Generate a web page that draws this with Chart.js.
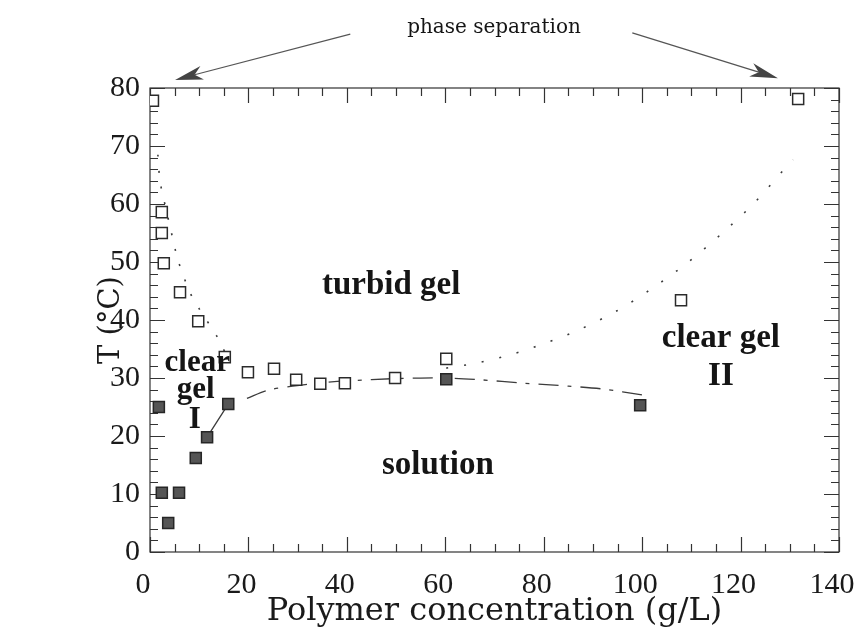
<!DOCTYPE html>
<html>
<head>
<meta charset="utf-8">
<script src="https://cdn.jsdelivr.net/npm/chart.js@4.4.0/dist/chart.umd.min.js"></script>
<style>
  html, body { margin: 0; padding: 0; background: #fff; }
  canvas { display: block; }
</style>
</head>
<body>
<canvas id="phase" width="858" height="634"></canvas>
<script>
// Phase diagram: transition temperatures vs. polymer concentration

// Open squares: turbid-gel / phase-separation temperatures
const turbidX = [0.6, 2.4, 2.4, 2.8, 6.1, 9.8, 15.2, 19.9, 25.2, 29.7, 34.6, 39.6, 49.8, 60.2, 107.9, 131.7];
const turbidY = [77.8, 58.6, 55.0, 49.8, 44.8, 39.8, 33.6, 31.0, 31.6, 29.7, 29.0, 29.1, 30.0, 33.3, 43.4, 78.1];

// Filled squares: sol-gel temperatures
const gelX = [1.8, 2.4, 5.9, 3.7, 9.3, 11.6, 15.9, 60.2, 99.6];
const gelY = [25.0, 10.2, 10.2, 5.0, 16.2, 19.8, 25.5, 29.8, 25.3];

// Dotted boundary, low-concentration side
const leftBoundX = [1.6, 2.0, 2.6, 4.1, 5.7, 8.1, 9.8, 13.8, 15.2];
const leftBoundY = [68.5, 64.1, 61.6, 56.0, 50.3, 44.8, 42.2, 36.9, 34.5];

// Dotted boundary, high-concentration side
const rightBoundX = [60.2, 66.5, 73.2, 80.3, 87.4, 94.9, 101.6, 109.1, 116.3, 122.8, 129.1, 130.7];
const rightBoundY = [31.7, 32.6, 34.0, 36.0, 38.4, 41.6, 45.2, 49.8, 55.0, 60.2, 66.2, 67.6];

// Dash-dot boundary between solution and gel
const gelLineX = [19.7, 24, 29, 35, 40, 50, 60, 67, 76, 85, 92, 100];
const gelLineY = [26.5, 27.9, 28.6, 29.2, 29.5, 29.9, 30.0, 29.7, 29.1, 28.6, 28.1, 27.1];

// Solid segment through the clear gel I onset
const solidX = [11.6, 15.9];
const solidY = [19.8, 25.5];

// Axis ticks
const xTickLabels = [0, 20, 40, 60, 80, 100, 120, 140];
const yTickLabels = [0, 10, 20, 30, 40, 50, 60, 70, 80];
const xMinorStep = 5;
const yMinorStep = 2;

const pts = (xs, ys) => xs.map((v, i) => ({ x: v, y: ys[i] }));

const SERIF = '"Liberation Serif", "Times New Roman", serif';
const WIDE_SERIF = '"DejaVu Serif", serif';

// Region names and the arrow annotation, placed in data units
const regionLabels = [
  { text: 'turbid gel', x: 49, y: 45.9, size: 33 },
  { text: 'clear gel', x: 116, y: 36.9, size: 33 },
  { text: 'II', x: 116, y: 30.2, size: 33 },
  { text: 'clear', x: 9.6, y: 32.6, size: 31 },
  { text: 'gel', x: 9.3, y: 27.9, size: 31 },
  { text: 'I', x: 9.1, y: 22.8, size: 31 },
  { text: 'solution', x: 58.5, y: 15.0, size: 33 }
];
const noteText = { text: 'phase separation', x: 69.9, y: 90.3, size: 20 };
const noteArrows = [
  { from: [40.7, 89.3], to: [5.1, 81.4] },
  { from: [98.0, 89.5], to: [127.6, 81.7] }
];

const whiteBg = {
  id: 'whiteBg',
  beforeDraw(chart) {
    const { ctx, width, height } = chart;
    ctx.save();
    ctx.fillStyle = '#fff';
    ctx.fillRect(0, 0, width, height);
    ctx.restore();
  }
};

// Box frame with inward ticks on all four sides
const frameTicks = {
  id: 'frameTicks',
  beforeDatasetsDraw(chart) {
    const { ctx, chartArea: a, scales: { x, y } } = chart;
    ctx.save();
    ctx.strokeStyle = '#333';
    ctx.lineWidth = 1.2;
    ctx.strokeRect(a.left, a.top, a.right - a.left, a.bottom - a.top);
    ctx.beginPath();
    for (let v = x.min; v <= x.max + 1e-9; v += xMinorStep) {
      const px = Math.round(x.getPixelForValue(v)) + 0.5;
      const len = xTickLabels.includes(v) ? 15 : 8;
      ctx.moveTo(px, a.bottom); ctx.lineTo(px, a.bottom - len);
      ctx.moveTo(px, a.top); ctx.lineTo(px, a.top + len);
    }
    for (let v = y.min; v <= y.max + 1e-9; v += yMinorStep) {
      const py = Math.round(y.getPixelForValue(v)) + 0.5;
      const len = yTickLabels.includes(v) ? 15 : 8;
      ctx.moveTo(a.left, py); ctx.lineTo(a.left + len, py);
      ctx.moveTo(a.right, py); ctx.lineTo(a.right - len, py);
    }
    ctx.stroke();
    ctx.restore();
  }
};

function drawArrow(ctx, x0, y0, x1, y1) {
  const ang = Math.atan2(y1 - y0, x1 - x0);
  const L = 28, W = 7;
  const cos = Math.cos(ang), sin = Math.sin(ang);
  const bx = x1 - cos * L, by = y1 - sin * L;
  const nx = x1 - cos * L * 0.72, ny = y1 - sin * L * 0.72;
  ctx.beginPath();
  ctx.moveTo(x0, y0);
  ctx.lineTo(nx, ny);
  ctx.strokeStyle = '#555';
  ctx.lineWidth = 1.2;
  ctx.stroke();
  ctx.beginPath();
  ctx.moveTo(x1, y1);
  ctx.lineTo(bx - sin * W, by + cos * W);
  ctx.lineTo(nx, ny);
  ctx.lineTo(bx + sin * W, by - cos * W);
  ctx.closePath();
  ctx.fillStyle = '#444';
  ctx.fill();
}

const annotations = {
  id: 'annotations',
  afterDatasetsDraw(chart) {
    const { ctx, scales: { x, y } } = chart;
    ctx.save();
    ctx.fillStyle = '#151515';
    ctx.textAlign = 'center';
    ctx.textBaseline = 'middle';
    regionLabels.forEach(l => {
      ctx.font = `bold ${l.size}px ${SERIF}`;
      ctx.fillText(l.text, x.getPixelForValue(l.x), y.getPixelForValue(l.y));
    });
    ctx.font = `${noteText.size}px ${WIDE_SERIF}`;
    ctx.fillText(noteText.text, x.getPixelForValue(noteText.x), y.getPixelForValue(noteText.y));
    noteArrows.forEach(a => {
      drawArrow(ctx,
        x.getPixelForValue(a.from[0]), y.getPixelForValue(a.from[1]),
        x.getPixelForValue(a.to[0]), y.getPixelForValue(a.to[1]));
    });
    ctx.restore();
  }
};

const lineSet = (data, dash, width) => ({
  data, showLine: true, pointRadius: 0, borderColor: '#3c3c3c',
  borderWidth: width, borderDash: dash, fill: false, tension: 0.3, order: 5
});

new Chart(document.getElementById('phase'), {
  type: 'scatter',
  data: {
    datasets: [
      {
        label: 'turbid gel',
        data: pts(turbidX, turbidY),
        pointStyle: 'rect', pointRadius: 7.8, pointHoverRadius: 7.8,
        backgroundColor: '#fff', borderColor: '#2b2b2b', borderWidth: 1.5, order: 1
      },
      {
        label: 'gel',
        data: pts(gelX, gelY),
        pointStyle: 'rect', pointRadius: 7.8, pointHoverRadius: 7.8,
        backgroundColor: '#555', borderColor: '#262626', borderWidth: 1.5, order: 0
      },
      lineSet(pts(leftBoundX, leftBoundY), [2, 14], 1.6),
      lineSet(pts(rightBoundX, rightBoundY), [2, 16], 1.6),
      lineSet(pts(gelLineX, gelLineY), [20, 9, 4, 9], 1.3),
      lineSet(pts(solidX, solidY), [], 1.3)
    ]
  },
  options: {
    responsive: false,
    animation: false,
    devicePixelRatio: 1,
    layout: { autoPadding: false, padding: { left: 90, right: 19, top: 88, bottom: 0 } },
    plugins: { legend: { display: false }, tooltip: { enabled: false } },
    scales: {
      x: {
        type: 'linear', min: 0, max: 140,
        afterBuildTicks: s => { s.ticks = xTickLabels.map(v => ({ value: v })); },
        afterFit: s => { s.height = 82; s.paddingLeft = 0; s.paddingRight = 0; },
        grid: { display: false, drawTicks: false },
        border: { display: false },
        ticks: { padding: 15, labelOffset: -7, color: '#1a1a1a', font: { family: SERIF, size: 30 }, maxRotation: 0 },
        title: {
          display: true, text: 'Polymer concentration (g/L)', color: '#1a1a1a',
          font: { family: WIDE_SERIF, size: 32 }, padding: { top: 0, bottom: 3 }
        }
      },
      y: {
        type: 'linear', min: 0, max: 80,
        afterBuildTicks: s => { s.ticks = yTickLabels.map(v => ({ value: v })); },
        afterFit: s => { s.width = 60; s.paddingTop = 0; s.paddingBottom = 0; },
        grid: { display: false, drawTicks: false },
        border: { display: false },
        ticks: { padding: 10, color: '#1a1a1a', font: { family: SERIF, size: 30 } },
        title: {
          display: true, text: 'T (°C)', color: '#1a1a1a',
          font: { family: WIDE_SERIF, size: 29 }, padding: { top: 4, bottom: 0 }
        }
      }
    }
  },
  plugins: [whiteBg, frameTicks, annotations]
});
</script>
</body>
</html>
